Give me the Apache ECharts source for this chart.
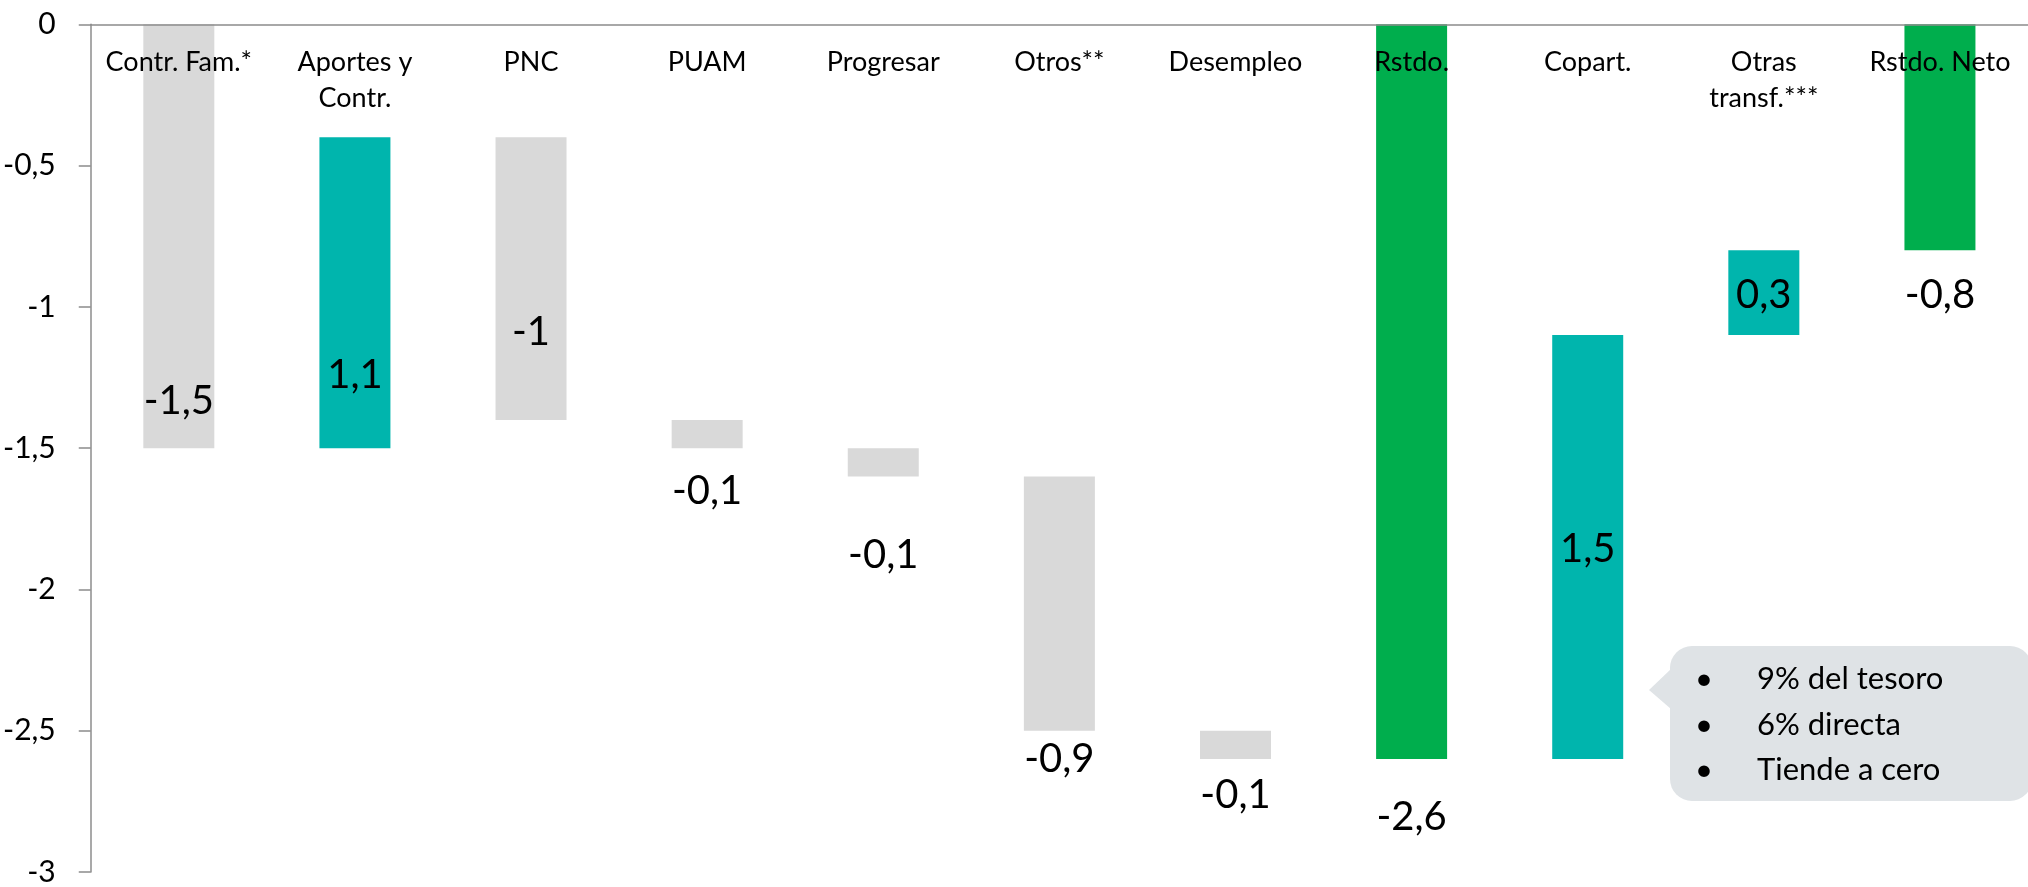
<!DOCTYPE html>
<html>
<head>
<meta charset="utf-8">
<script src="https://cdn.jsdelivr.net/npm/echarts@6/dist/echarts.min.js"></script>
<style>
html,body{margin:0;padding:0;background:#fff;}
#chart{width:2028px;height:887px;}
</style>
</head>
<body>
<div id="chart"></div>
<script>
// ---- data ----
const categories = ['Contr. Fam.*', 'Aportes y\nContr.', 'PNC', 'PUAM', 'Progresar', 'Otros**', 'Desempleo', 'Rstdo.', 'Copart.', 'Otras\ntransf.***', 'Rstdo. Neto'];
const changes = [-1.5, 1.1, -1, -0.1, -0.1, -0.9, -0.1, -2.6, 1.5, 0.3, -0.8];
const kinds = ['change', 'change', 'change', 'change', 'change', 'change', 'change', 'total', 'change', 'change', 'total'];
const yMin = -3, yMax = 0, yStep = 0.5;
const calloutLines = ['9% del tesoro', '6% directa', 'Tiende a cero'];

// ---- styles ----
const COLORS = { neg: '#D9D9D9', pos: '#00B5AD', total: '#00AE4D' };
const labelDy = [165, 82, 53, 57, 93, 156, 50, 425, 2, 2, 158];
const FONT = 'Lato, "Open Sans", sans-serif';
const fmt = v => String(v).replace('.', ',');

// build waterfall (helper + visible)
const helper = [], visible = [];
let level = 0;
categories.forEach((c, i) => {
  let top, bottom;
  if (kinds[i] === 'total') {
    top = 0; bottom = changes[i]; level = changes[i];
  } else {
    const next = +(level + changes[i]).toFixed(4);
    top = Math.max(level, next); bottom = Math.min(level, next);
    level = next;
  }
  helper.push(top);
  const color = kinds[i] === 'total' ? COLORS.total : (changes[i] >= 0 ? COLORS.pos : COLORS.neg);
  visible.push({
    value: +(bottom - top).toFixed(4),
    itemStyle: { color },
    label: { offset: [0, labelDy[i]] },
    delta: changes[i]
  });
});

const chart = echarts.init(document.getElementById('chart'));
chart.setOption({
  animation: false,
  grid: { left: 90.5, top: 24.3, width: 1938, height: 852.4 },
  xAxis: {
    type: 'category',
    data: categories,
    position: 'top',
    z: 10,
    axisLine: { onZero: false, lineStyle: { color: '#8C8C8C', width: 1.5 } },
    axisTick: { inside: true, length: 9, lineStyle: { color: '#8C8C8C', width: 1.5 } },
    axisLabel: {
      inside: true, margin: 20, color: '#000', fontFamily: FONT, fontSize: 27, lineHeight: 36,
      verticalAlign: 'top', interval: 0
    },
    splitLine: { show: false }
  },
  yAxis: {
    type: 'value', min: yMin, max: yMax, interval: yStep,
    axisLine: { show: true, lineStyle: { color: '#8C8C8C', width: 1.5 } },
    axisTick: { show: true, length: 12, lineStyle: { color: '#8C8C8C', width: 1.5 } },
    axisLabel: { margin: 35, color: '#000', fontFamily: FONT, fontSize: 30, formatter: v => fmt(v) },
    splitLine: { show: false }
  },
  series: [
    {
      type: 'bar', stack: 'w', data: helper, barWidth: 71,
      itemStyle: { color: 'transparent' }, silent: true, label: { show: false }
    },
    {
      type: 'bar', stack: 'w', data: visible, barWidth: 71,
      label: {
        show: true, position: 'inside', color: '#000', fontFamily: FONT, fontSize: 40,
        formatter: p => fmt(p.data.delta)
      }
    }
  ],
  graphic: [
    { type: 'rect', shape: { x: 1670, y: 646, width: 362, height: 155, r: 22 }, style: { fill: '#DFE3E6' }, z: 10 },
    { type: 'polygon', shape: { points: [[1671, 669], [1649, 690], [1671, 709]] }, style: { fill: '#DFE3E6' }, z: 10 },
    ...calloutLines.flatMap((t, i) => [
      { type: 'text', z: 11, style: { text: '•', x: 1704, y: 679 + i * 45.5, align: 'center', verticalAlign: 'middle', fill: '#000', fontFamily: FONT, fontSize: 31 } },
      { type: 'text', z: 11, style: { text: t, x: 1757, y: 679 + i * 45.5, align: 'left', verticalAlign: 'middle', fill: '#000', fontFamily: FONT, fontSize: 31 } }
    ])
  ]
});
</script>
</body>
</html>
